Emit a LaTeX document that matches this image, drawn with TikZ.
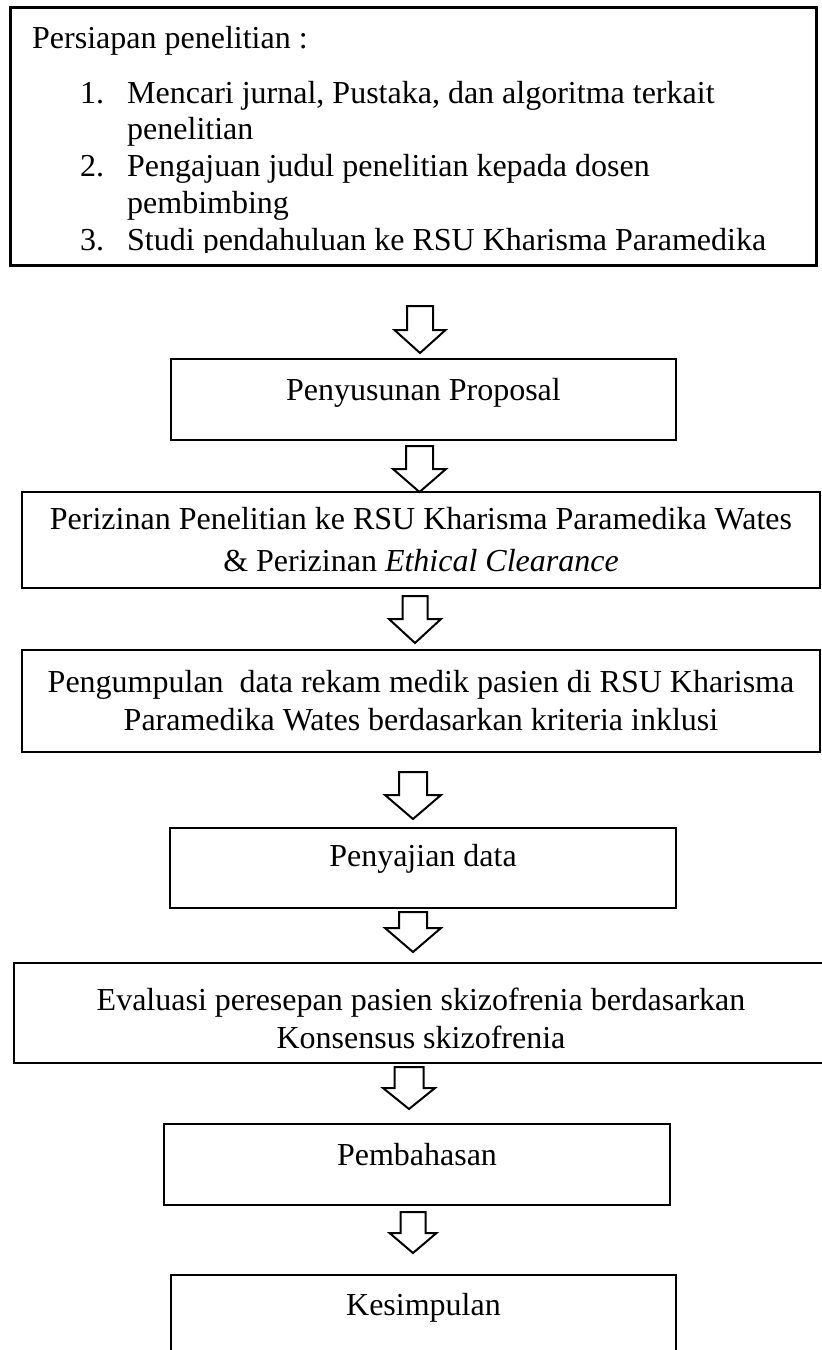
\documentclass[tikz,border=0pt]{standalone}
\usepackage{fontspec}
\setmainfont{Liberation Serif}
\newcommand\blockarr[6]{%
  \draw[barrow] ({#1-#5},#2) -- ({#1+#5},#2) -- ({#1+#5},#3) -- ({#1+#6},#3) -- (#1,#4) -- ({#1-#6},#3) -- ({#1-#5},#3) -- cycle;}
\begin{document}
\begin{tikzpicture}[x=1pt,y=-1pt,
  box/.style={draw=black, line width=2.6pt, rectangle, inner sep=0pt},
  txt/.style={font=\fontsize{32}{38}\selectfont, inner sep=0pt, anchor=base},
  barrow/.style={draw=black, line width=2pt, fill=white, line join=miter}]
\useasboundingbox (0,0) rectangle (822,1350);
\clip (0,0) rectangle (822,1350);
% boxes
\node[box, line width=3pt, minimum width=806pt, minimum height=258pt] (b1) at (413,136) {};
\node[box, minimum width=505pt, minimum height=81pt] (b2) at (423.5,399.5) {};
\node[box, minimum width=798pt, minimum height=96pt] (b3) at (421,540) {};
\node[box, minimum width=798pt, minimum height=102pt] (b4) at (421,701) {};
\node[box, minimum width=506pt, minimum height=80pt] (b5) at (423,868) {};
\node[box, minimum width=810pt, minimum height=100pt] (b6) at (419,1013) {};
\node[box, minimum width=506pt, minimum height=81pt] (b7) at (417,1164.5) {};
\node[box, minimum width=505pt, minimum height=85pt] (b8) at (423.5,1317.5) {};
% top box text
\node[txt, anchor=base west] (t0) at (32,48) {Persiapan penelitian :};
\node[txt, anchor=base west] (n1) at (80,103) {1.};
\node[txt, anchor=base west] (i1) at (127,103) {Mencari jurnal, Pustaka, dan algoritma terkait};
\node[txt, anchor=base west] (i1b) at (127,139.75) {penelitian};
\node[txt, anchor=base west] (n2) at (80,176.5) {2.};
\node[txt, anchor=base west] (i2) at (127,176.5) {Pengajuan judul penelitian kepada dosen};
\node[txt, anchor=base west] (i2b) at (127,213.25) {pembimbing};
\begin{scope}
\clip (0,0) rectangle (822,252);
\node[txt, anchor=base west] (n3) at (80,250) {3.};
\node[txt, anchor=base west] (i3) at (127,250) {Studi pendahuluan ke RSU Kharisma Paramedika};
\end{scope}
% box texts
\node[txt] (l2) at (423.5,400) {Penyusunan Proposal};
\node[txt] (l3a) at (421,529) {Perizinan Penelitian ke RSU Kharisma Paramedika Wates};
\node[txt] (l3b) at (421,571) {\& Perizinan \textit{Ethical Clearance}};
\node[txt] (l4a) at (421,692) {Pengumpulan~ data rekam medik pasien di RSU Kharisma};
\node[txt] (l4b) at (421,730) {Paramedika Wates berdasarkan kriteria inklusi};
\node[txt] (l5) at (423,866) {Penyajian data};
\node[txt] (l6a) at (421,1010) {Evaluasi peresepan pasien skizofrenia berdasarkan};
\node[txt] (l6b) at (421,1048) {Konsensus skizofrenia};
\node[txt] (l7) at (417,1165) {Pembahasan};
\node[txt] (l8) at (423.5,1315) {Kesimpulan};
% block arrows
\blockarr{420}{306}{330}{353}{13}{25.5}
\blockarr{419.5}{446}{469}{492}{13.5}{26.5}
\blockarr{415}{596}{619}{643}{12.5}{26}
\blockarr{413}{772}{795}{819}{14}{28}
\blockarr{413}{912}{928}{952}{14}{28}
\blockarr{409}{1067}{1088}{1109}{14.5}{26}
\blockarr{413}{1212}{1233}{1253}{12.5}{23.5}
\end{tikzpicture}
\end{document}
